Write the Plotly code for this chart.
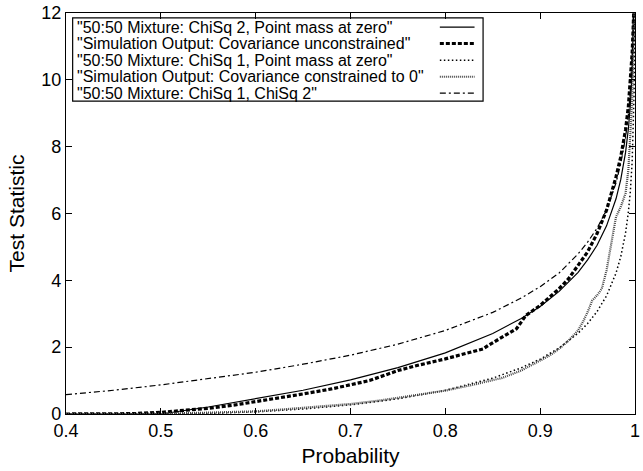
import plotly.graph_objects as go

# theoretical quantile curves (probability -> test statistic)
p_theory = [0.4, 0.45, 0.5, 0.55, 0.6, 0.65, 0.7, 0.75, 0.8, 0.85, 0.88, 0.9,
            0.92, 0.94, 0.95, 0.96, 0.97, 0.98, 0.985, 0.99, 0.993, 0.995,
            0.997, 0.998, 0.9985, 0.999, 0.9995, 0.9998]
mix_chi2_zero = [0, 0, 0, 0.21, 0.45, 0.71, 1.02, 1.39, 1.83, 2.41, 2.86, 3.22,
                 3.67, 4.24, 4.61, 5.05, 5.63, 6.44, 7.02, 7.82, 8.53, 9.21,
                 10.23, 11.05, 11.63, 12.43, 13.8, 15.6]
mix_chi1_zero = [0, 0, 0, 0.016, 0.064, 0.148, 0.275, 0.455, 0.708, 1.074, 1.381, 1.642,
                 1.974, 2.418, 2.706, 3.066, 3.537, 4.218, 4.71, 5.41, 6.04, 6.63,
                 7.55, 8.28, 8.81, 9.55, 10.83, 12.5]
mix_chi1_chi2 = [0.58, 0.71, 0.87, 1.05, 1.25, 1.49, 1.76, 2.09, 2.5, 3.04, 3.47, 3.81,
                 4.22, 4.79, 5.14, 5.56, 6.1, 6.92, 7.5, 8.27, 8.95, 9.63,
                 10.6, 11.4, 11.9, 12.6, 13.9, 15.5]

# simulation output, covariance unconstrained
p_sim_u = [0.4, 0.45, 0.47, 0.5, 0.52, 0.55, 0.58, 0.6, 0.63, 0.65, 0.68, 0.7,
           0.72, 0.75, 0.77, 0.8, 0.82, 0.84, 0.845, 0.86, 0.875, 0.88, 0.885,
           0.89, 0.9, 0.91, 0.92, 0.93, 0.94, 0.95, 0.96, 0.97, 0.975, 0.98,
           0.985, 0.99, 0.993, 0.995, 0.997, 0.998, 0.999]
sim_u = [0, 0, 0.01, 0.05, 0.1, 0.17, 0.28, 0.37, 0.5, 0.6, 0.75, 0.88,
         1.0, 1.3, 1.45, 1.65, 1.8, 1.95, 2.05, 2.3, 2.55, 2.75, 2.95,
         3.05, 3.25, 3.5, 3.75, 4.05, 4.45, 4.85, 5.4, 6.1, 6.6, 7.1,
         7.7, 8.5, 9.2, 9.9, 10.8, 11.5, 12.3]

# simulation output, covariance constrained to 0
p_sim_c = [0.4, 0.5, 0.55, 0.6, 0.63, 0.66, 0.7, 0.73, 0.76, 0.8, 0.83, 0.86,
           0.88, 0.9, 0.91, 0.92, 0.93, 0.94, 0.945, 0.95, 0.955, 0.96, 0.965,
           0.97, 0.975, 0.98, 0.985, 0.99, 0.993, 0.995, 0.997, 0.998, 0.999]
sim_c = [0, 0.01, 0.04, 0.08, 0.14, 0.2, 0.3, 0.4, 0.52, 0.7, 0.88, 1.08,
         1.3, 1.6, 1.75, 1.95, 2.2, 2.5, 2.75, 3.05, 3.4, 3.55, 3.75,
         4.3, 5.1, 5.9, 6.2, 6.6, 7.3, 8.2, 9.4, 10.5, 12.2]

x_ticks = [0.4, 0.5, 0.6, 0.7, 0.8, 0.9, 1.0]
x_ticktext = ['0.4', '0.5', '0.6', '0.7', '0.8', '0.9', '1']
y_ticks = [0, 2, 4, 6, 8, 10, 12]

legend_names = ['"50:50 Mixture: ChiSq 2, Point mass at zero"',
                '"Simulation Output: Covariance unconstrained"',
                '"50:50 Mixture: ChiSq 1, Point mass at zero"',
                '"Simulation Output: Covariance constrained to 0"',
                '"50:50 Mixture: ChiSq 1, ChiSq 2"']

styles = [dict(color='black', width=1.2, dash='solid'),
          dict(color='black', width=3.2, dash='4px,2px'),
          dict(color='black', width=1.5, dash='1.5px,2.5px'),
          dict(color='#444444', width=2.2, dash='1px,1px'),
          dict(color='black', width=1.2, dash='6px,3px,2px,3px')]

series = [(p_theory, mix_chi2_zero), (p_sim_u, sim_u), (p_theory, mix_chi1_zero),
          (p_sim_c, sim_c), (p_theory, mix_chi1_chi2)]

fig = go.Figure()
for (xs, ys), st, nm in zip(series, styles, legend_names):
    fig.add_trace(go.Scatter(x=xs, y=ys, mode='lines', line=st, name=nm,
                             showlegend=False, hoverinfo='skip'))

# gnuplot style key: text on the left, line sample on the right
shapes = [dict(type='rect', xref='paper', yref='paper', x0=0.0117, x1=0.733,
               y0=0.780, y1=0.988, line=dict(color='black', width=1.2),
               fillcolor='white', layer='below')]
annotations = []
row_y = [0.965, 0.924, 0.882, 0.841, 0.800]
for ry, st, nm in zip(row_y, styles, legend_names):
    annotations.append(dict(xref='paper', yref='paper', x=0.0157, y=ry, text=nm,
                            showarrow=False, xanchor='left', yanchor='middle',
                            font=dict(size=16, color='black')))
    shapes.append(dict(type='line', xref='paper', yref='paper', x0=0.657, x1=0.718,
                       y0=ry, y1=ry, line=st))

fig.update_layout(
    width=643, height=471,
    margin=dict(l=66, r=3, t=12, b=57),
    plot_bgcolor='white', paper_bgcolor='white',
    font=dict(family='Liberation Sans, Arial, sans-serif', color='black', size=18),
    shapes=shapes, annotations=annotations,
    showlegend=False,
    xaxis=dict(range=[0.4, 1.0], tickvals=x_ticks, ticktext=x_ticktext,
               ticks='inside', ticklen=6, tickcolor='black', mirror='ticks',
               ticklabeloverflow='allow',
               showline=True, linecolor='black', linewidth=1.2, showgrid=False,
               zeroline=False, title=dict(text='Probability', font=dict(size=21), standoff=8)),
    yaxis=dict(range=[0, 12], tickvals=y_ticks,
               ticks='inside', ticklen=6, tickcolor='black', mirror='ticks',
               showline=True, linecolor='black', linewidth=1.2, showgrid=False,
               zeroline=False, title=dict(text='Test Statistic', font=dict(size=21), standoff=10)),
)

# drop the default 8px body margin so the figure sits at the window corner
fig.write_html('out.html', config={'displayModeBar': False},
               post_script="document.body.style.margin='0';")
